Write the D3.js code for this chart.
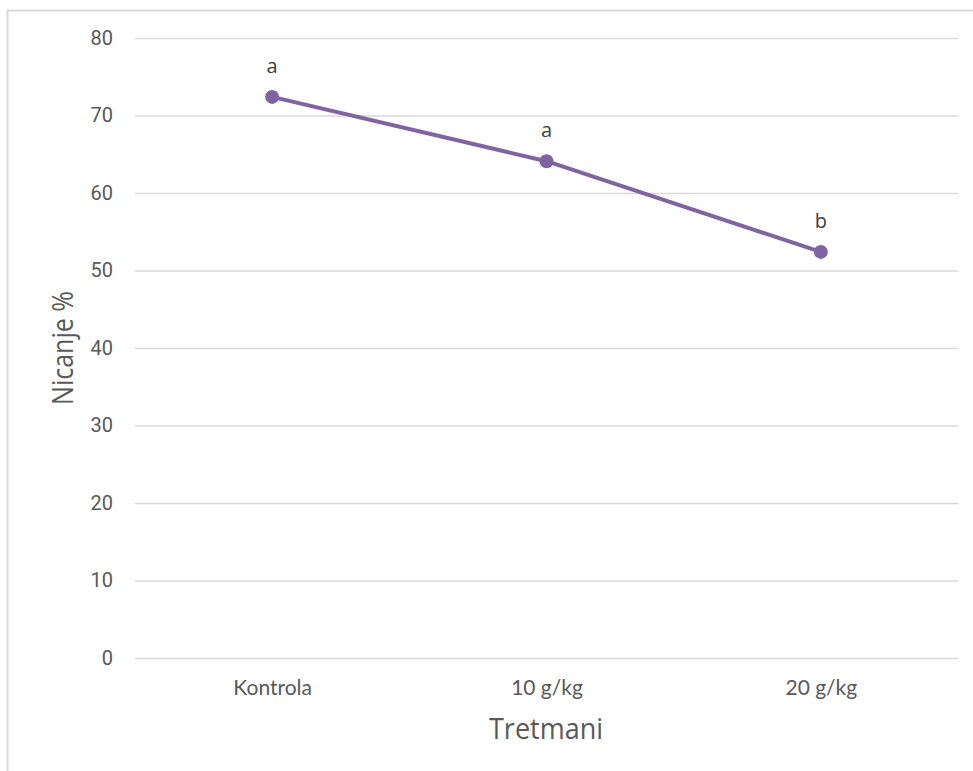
<!DOCTYPE html>
<html>
<head>
<meta charset="utf-8">
<script src="https://cdn.jsdelivr.net/npm/d3@7"></script>
<style>
  body { margin: 0; background: #fff; }
</style>
</head>
<body>
<svg id="chart" width="973" height="771"></svg>
<script>
// data
var categories = ["Kontrola", "10 g/kg", "20 g/kg"];
var values = [72.4, 64.1, 52.4];
var letters = ["a", "a", "b"];
var y_ticks = [0, 10, 20, 30, 40, 50, 60, 70, 80];

var svg = d3.select("#chart");
var plot_left = 135, plot_right = 958, plot_top = 38, plot_bottom = 658;

// chart border (light grey frame)
svg.append("rect")
    .attr("x", 7.5).attr("y", 10.5)
    .attr("width", 973).attr("height", 800)
    .style("fill", "none")
    .style("stroke", "#d9d9d9")
    .style("stroke-width", 2);

var x_scale = d3.scalePoint().domain(categories).range([plot_left, plot_right]).padding(0.5);
var y_scale = d3.scaleLinear().domain([0, 80]).range([plot_bottom, plot_top]);

// gridlines + y labels
var y_axis = svg.append("g")
    .attr("transform", "translate(" + plot_left + ",0)")
    .call(d3.axisLeft(y_scale).tickValues(y_ticks).tickSize(-(plot_right - plot_left)).tickPadding(22));
y_axis.select(".domain").remove();
y_axis.selectAll("line").style("stroke", "#d9d9d9").style("stroke-width", 1.3);
y_axis.selectAll("text")
    .style("font-family", "Roboto, 'Open Sans', sans-serif")
    .style("font-size", "20px")
    .style("fill", "#595959");

// x labels
var x_axis = svg.append("g")
    .attr("transform", "translate(0," + plot_bottom + ")")
    .call(d3.axisBottom(x_scale).tickSize(0).tickPadding(22));
x_axis.select(".domain").remove();
x_axis.selectAll("text")
    .style("font-family", "Lato, 'Liberation Sans', sans-serif")
    .style("font-size", "21px")
    .style("fill", "#595959");

// axis titles
svg.append("text")
    .attr("transform", "translate(546,739) scale(1,1.1)")
    .attr("text-anchor", "middle")
    .style("font-family", "'Open Sans', sans-serif")
    .style("font-size", "27px")
    .style("fill", "#595959")
    .text("Tretmani");

svg.append("text")
    .attr("transform", "translate(73,348) rotate(-90) scale(1,1.15)")
    .attr("text-anchor", "middle")
    .style("font-family", "'Open Sans', sans-serif")
    .style("font-size", "25px")
    .style("fill", "#595959")
    .text("Nicanje %");

var points = categories.map(function(c, i) { return {cat: c, value: values[i], letter: letters[i]}; });

var line = d3.line()
    .x(function(d) { return x_scale(d.cat); })
    .y(function(d) { return y_scale(d.value); });

svg.append("path")
    .datum(points)
    .attr("d", line)
    .style("fill", "none")
    .style("stroke", "#8064a2")
    .style("stroke-width", 4)
    .style("stroke-linejoin", "round");

svg.selectAll("circle")
    .data(points)
    .enter()
    .append("circle")
    .attr("cx", function(d) { return x_scale(d.cat); })
    .attr("cy", function(d) { return y_scale(d.value); })
    .attr("r", 7)
    .style("fill", "#8064a2");

svg.selectAll(".letter")
    .data(points)
    .enter()
    .append("text")
    .attr("class", "letter")
    .attr("x", function(d) { return x_scale(d.cat); })
    .attr("y", function(d) { return y_scale(d.value) - 24; })
    .attr("text-anchor", "middle")
    .style("font-family", "'Open Sans', sans-serif")
    .style("font-size", "20px")
    .style("fill", "#404040")
    .text(function(d) { return d.letter; });
</script>
</body>
</html>
